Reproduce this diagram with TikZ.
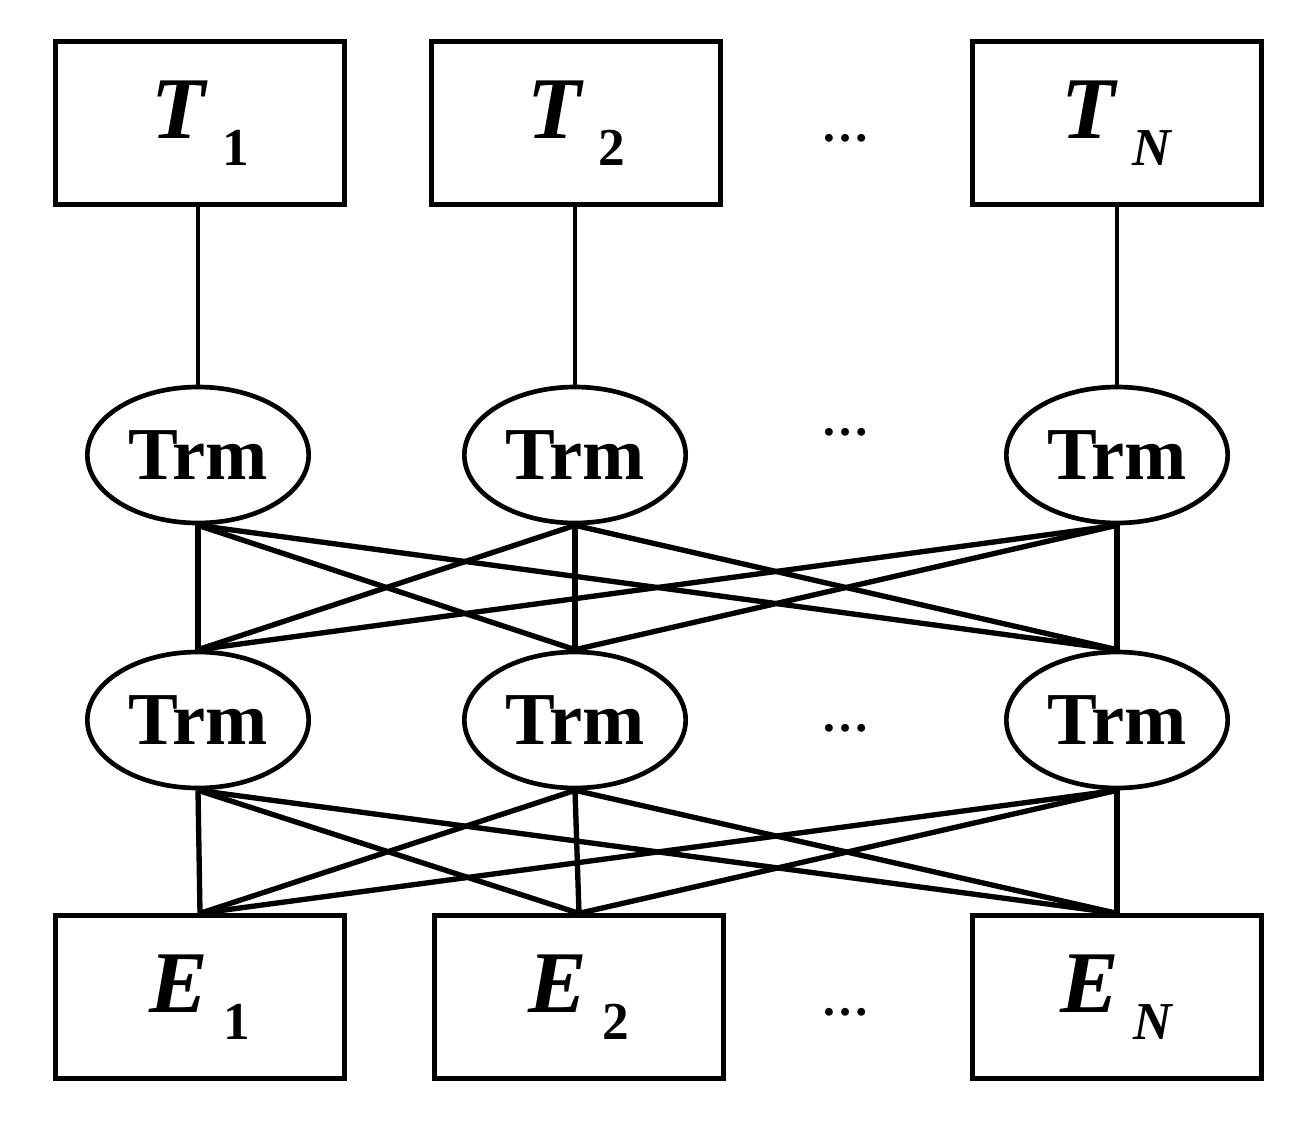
\documentclass[tikz,border=0pt]{standalone}
\usepackage{fontspec}
\setmainfont{Liberation Serif}
\usetikzlibrary{shapes.geometric,shadows}
\newcommand{\lbl}[2]{\textbf{\textit{#1}}\,\raisebox{-0.3em}{\fontsize{40}{40}\selectfont\textbf{#2}}}
\tikzset{
  px/.style={x=0.75pt,y=-0.75pt},
  box/.style={draw,line width=3.5pt,fill=white,minimum width=217pt,minimum height=122pt,inner sep=0pt,
    font=\fontsize{66}{66}\selectfont,
    drop shadow={shadow xshift=2pt,shadow yshift=-2pt,fill=blue!40,opacity=0.5}},
  trm/.style={draw,ellipse,line width=3.5pt,fill=white,minimum width=166pt,minimum height=102pt,inner sep=0pt,
    font=\fontsize{56}{56}\selectfont\bfseries},
  dots/.style={font=\fontsize{36}{36}\selectfont\bfseries},
  link/.style={line width=3.5pt},
  cross/.style={line width=4pt}
}
\begin{document}
\begin{tikzpicture}[px]
\useasboundingbox (0,0) rectangle (1306,1128);
\node[box] (t1) at (200,123) {\lbl{T}{1}};
\node[box] (t2) at (576,123) {\lbl{T}{2}};
\node[box] (tn) at (1117,123) {\lbl{T}{\textit{N}}};
\node[box] (e1) at (200,997) {\lbl{E}{1}};
\node[box] (e2) at (579,997) {\lbl{E}{2}};
\node[box] (en) at (1117,997) {\lbl{E}{\textit{N}}};
\node[trm] (a1) at (198,455) {Trm};
\node[trm] (a2) at (575,455) {Trm};
\node[trm] (an) at (1117,455) {Trm};
\node[trm] (b1) at (198,720) {Trm};
\node[trm] (b2) at (575,720) {Trm};
\node[trm] (bn) at (1117,720) {Trm};
\node[dots] (d1) at (845,138) {\dots};
\node[dots] (d2) at (845,432) {\dots};
\node[dots] (d3) at (845,728) {\dots};
\node[dots] (d4) at (845,1012) {\dots};
\draw[link] (a1.north) -- (a1.north |- t1.south)
            (a2.north) -- (a2.north |- t2.south)
            (an.north) -- (an.north |- tn.south);
\foreach \u in {a1,a2,an}
  \foreach \v in {b1,b2,bn}
    \draw[cross] (\u.south) -- (\v.north);
\foreach \u in {b1,b2,bn}
  \foreach \v in {e1,e2,en}
    \draw[cross] (\u.south) -- (\v.north);
\end{tikzpicture}
\end{document}
